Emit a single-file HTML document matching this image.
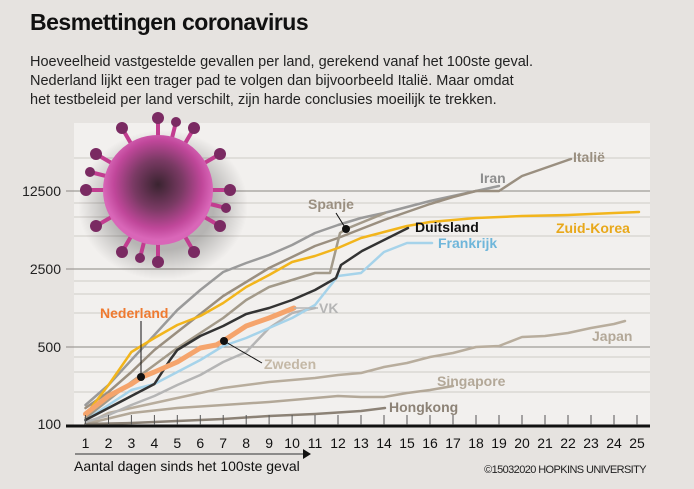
<!DOCTYPE html>
<html><head><meta charset="utf-8"><style>
body{margin:0;width:694px;height:489px;background:#e6e3e0;font-family:"Liberation Sans",sans-serif;overflow:hidden}
</style></head><body>
<svg width="694" height="489" xmlns="http://www.w3.org/2000/svg" style="position:absolute;left:0;top:0">
<defs>
<radialGradient id="vg" cx="0.5" cy="0.45" r="0.5">
<stop offset="0" stop-color="#3a2430"/><stop offset="0.45" stop-color="#7a3a64"/><stop offset="0.8" stop-color="#c0479a"/><stop offset="1" stop-color="#d966b8"/></radialGradient>
<radialGradient id="sh" cx="0.5" cy="0.5" r="0.5"><stop offset="0.6" stop-color="#000" stop-opacity="0.25"/><stop offset="1" stop-color="#000" stop-opacity="0"/></radialGradient>
</defs>
<text x="30" y="30" font-size="23" font-weight="bold" fill="#111" letter-spacing="-0.5">Besmettingen coronavirus</text>
<g font-size="14.5" fill="#222">
<text x="30" y="66">Hoeveelheid vastgestelde gevallen per land, gerekend vanaf het 100ste geval.</text>
<text x="30" y="85">Nederland lijkt een trager pad te volgen dan bijvoorbeeld Italië. Maar omdat</text>
<text x="30" y="104">het testbeleid per land verschilt, zijn harde conclusies moeilijk te trekken.</text>
</g>
<rect x="74" y="123" width="576" height="303" fill="#f2f0ee"/>
<g stroke="#cfcbc7" stroke-width="1">
<line x1="74" x2="650" y1="158" y2="158"/><line x1="74" x2="650" y1="203" y2="203"/><line x1="74" x2="650" y1="217" y2="217"/><line x1="74" x2="650" y1="236" y2="236"/><line x1="74" x2="650" y1="281" y2="281"/><line x1="74" x2="650" y1="294" y2="294"/><line x1="74" x2="650" y1="313" y2="313"/><line x1="74" x2="650" y1="357" y2="357"/><line x1="74" x2="650" y1="372" y2="372"/><line x1="74" x2="650" y1="392" y2="392"/>
</g>
<g stroke="#a09c98" stroke-width="1.3">
<line x1="66" x2="650" y1="191" y2="191"/><line x1="66" x2="650" y1="269" y2="269"/><line x1="66" x2="650" y1="347" y2="347"/>
</g>
<g font-size="14" fill="#222" text-anchor="end">
<text x="61" y="196">12500</text><text x="61" y="274">2500</text><text x="61" y="352">500</text><text x="61" y="429">100</text>
</g>
<g fill="none" stroke-linejoin="round" stroke-linecap="round">
<polyline stroke="#b8ad9d" stroke-width="2.5" points="85.5,424 108.5,413 131.4,408 154.4,403 177.3,398 200.3,393 223.2,388 246.2,385 269.1,382 292.1,380 315,378 338,375 361,373 384,367 407,363 430,357 453,353 476,347 499,346 522,337 545,336 568,333 591,328 614,324 625,321"/>
<polyline stroke="#b3a898" stroke-width="2.5" points="85.5,424 131.4,413 177.3,408 223.2,405 269.1,402 315,398 338,396 361,397 384,397 407,393 430,390 453,386"/>
<polyline stroke="#8c8276" stroke-width="2.5" points="85.5,424 131.4,423 177.3,421 223.2,419 269.1,416 315,414 361,411 385,408"/>
<polyline stroke="#b5b5b5" stroke-width="2.5" points="85.5,422 108.5,415 131.4,405 154.4,396 177.3,385 200.3,375 223.2,362 246.2,352 269.1,328 292.1,313 315,308"/>
<polyline stroke="#a6d3ea" stroke-width="2.5" points="85.5,420 108.5,405 131.4,390 154.4,384 177.3,372 200.3,360 223.2,346 246.2,338 269.1,328 292.1,318 315,305 338,276 361,273 384,252 407,243 432,243"/>
<polyline stroke="#9a9a9a" stroke-width="2.5" points="85.5,405 108.5,385 131.4,360 154.4,335 177.3,310 200.3,290 223.2,272 246.2,263 269.1,255 292.1,245 315,233 338,225 361,218 384,213 407,207 430,201 453,196 476,191 499,186"/>
<polyline stroke="#9a8f80" stroke-width="2.5" points="85.5,408 108.5,392 131.4,372 154.4,350 177.3,332 200.3,314 223.2,296 246.2,282 269.1,268 292.1,257 315,246 338,238 361,229 384,220 407,212 430,204 453,197 476,191 499,191 522,176 545,168 568,160 571,159"/>
<polyline stroke="#a39a8a" stroke-width="2.5" points="85.5,418 108.5,400 131.4,382 154.4,365 177.3,348 200.3,333 223.2,318 246.2,300 269.1,287 292.1,280 315,273 330,273 340,233 346,229 385,213"/>
<polyline stroke="#f2b51c" stroke-width="2.5" points="85.5,415 108.5,385 131.4,352 154.4,338 177.3,325 200.3,316 223.2,303 246.2,287 269.1,275 292.1,262 315,256 338,248 361,238 384,232 407,226 430,222 476,218 522,216 568,215 614,213 639,212"/>
<polyline stroke="#333" stroke-width="2.5" points="85.5,420 108.5,408 131.4,396 154.4,384 170,360 177.3,350 200.3,336 223.2,326 246.2,314 269.1,308 292.1,300 315,290 336,278 341,265 362,251 408,228"/>
<polyline stroke="#f5a46c" stroke-width="5" points="85.5,414 108.5,396 131.4,384 142,377 154.4,372 177.3,362 200.3,348 216,345 223.2,341 246.2,326 269.1,318 294,308"/>
</g>
<g stroke="#111" stroke-width="1"><line x1="141" y1="377" x2="141" y2="321"/><line x1="224" y1="341" x2="262" y2="363"/><line x1="346" y1="229" x2="336" y2="213"/></g>
<line x1="294" y1="308" x2="318" y2="308" stroke="#b5b5b5" stroke-width="1.5"/>
<g fill="#111"><circle cx="141" cy="377" r="4"/><circle cx="224" cy="341" r="4"/><circle cx="346" cy="229" r="4"/></g>
<g font-size="14" font-weight="bold">
<text x="100" y="318" fill="#ef7a30">Nederland</text>
<text x="264" y="369" fill="#c4b8a6">Zweden</text>
<text x="319" y="313" fill="#b5b5b5">VK</text>
<text x="308" y="209" fill="#9a8f80">Spanje</text>
<text x="415" y="232" fill="#111">Duitsland</text>
<text x="438" y="248" fill="#6fb6da">Frankrijk</text>
<text x="556" y="233" fill="#e8a81a">Zuid-Korea</text>
<text x="480" y="183" fill="#8e8e8e">Iran</text>
<text x="573" y="162" fill="#9a8f80">Italië</text>
<text x="592" y="341" fill="#b3a898">Japan</text>
<text x="437" y="386" fill="#b3a898">Singapore</text>
<text x="389" y="412" fill="#8c8276">Hongkong</text>
</g>
<ellipse cx="163" cy="205" rx="85" ry="75" fill="url(#sh)"/>
<g transform="translate(158,190)">
<g stroke="#c23d90" stroke-width="4" stroke-linecap="round">
<line x1="0" y1="-50" x2="0" y2="-72"/><line x1="25" y1="-43" x2="36" y2="-62"/><line x1="43" y1="-25" x2="62" y2="-36"/><line x1="50" y1="0" x2="72" y2="0"/><line x1="43" y1="25" x2="62" y2="36"/><line x1="25" y1="43" x2="36" y2="62"/><line x1="0" y1="50" x2="0" y2="72"/><line x1="-25" y1="43" x2="-36" y2="62"/><line x1="-43" y1="25" x2="-62" y2="36"/><line x1="-50" y1="0" x2="-72" y2="0"/><line x1="-43" y1="-25" x2="-62" y2="-36"/><line x1="-25" y1="-43" x2="-36" y2="-62"/>
<line x1="13" y1="-48" x2="18" y2="-68"/><line x1="-13" y1="48" x2="-18" y2="68"/><line x1="48" y1="13" x2="68" y2="18"/><line x1="-48" y1="-13" x2="-68" y2="-18"/>
</g>
<g fill="#7a2a62">
<circle cx="0" cy="-72" r="6"/><circle cx="36" cy="-62" r="6"/><circle cx="62" cy="-36" r="6"/><circle cx="72" cy="0" r="6"/><circle cx="62" cy="36" r="6"/><circle cx="36" cy="62" r="6"/><circle cx="0" cy="72" r="6"/><circle cx="-36" cy="62" r="6"/><circle cx="-62" cy="36" r="6"/><circle cx="-72" cy="0" r="6"/><circle cx="-62" cy="-36" r="6"/><circle cx="-36" cy="-62" r="6"/><circle cx="18" cy="-68" r="5"/><circle cx="-18" cy="68" r="5"/><circle cx="68" cy="18" r="5"/><circle cx="-68" cy="-18" r="5"/>
</g>
<circle r="55" fill="url(#vg)"/>
</g>
<line x1="66" y1="426" x2="650" y2="426" stroke="#111" stroke-width="3"/>
<g stroke="#555" stroke-width="1">
<line x1="85.5" x2="85.5" y1="415" y2="425"/><line x1="108.5" x2="108.5" y1="415" y2="425"/><line x1="131.4" x2="131.4" y1="415" y2="425"/><line x1="154.4" x2="154.4" y1="415" y2="425"/><line x1="177.3" x2="177.3" y1="415" y2="425"/><line x1="200.3" x2="200.3" y1="415" y2="425"/><line x1="223.2" x2="223.2" y1="415" y2="425"/><line x1="246.2" x2="246.2" y1="415" y2="425"/><line x1="269.1" x2="269.1" y1="415" y2="425"/><line x1="292.1" x2="292.1" y1="415" y2="425"/><line x1="315" x2="315" y1="415" y2="425"/><line x1="338" x2="338" y1="415" y2="425"/><line x1="361" x2="361" y1="415" y2="425"/><line x1="384" x2="384" y1="415" y2="425"/><line x1="407" x2="407" y1="415" y2="425"/><line x1="430" x2="430" y1="415" y2="425"/><line x1="453" x2="453" y1="415" y2="425"/><line x1="476" x2="476" y1="415" y2="425"/><line x1="499" x2="499" y1="415" y2="425"/><line x1="522" x2="522" y1="415" y2="425"/><line x1="545" x2="545" y1="415" y2="425"/><line x1="568" x2="568" y1="415" y2="425"/><line x1="591" x2="591" y1="415" y2="425"/><line x1="614" x2="614" y1="415" y2="425"/><line x1="637" x2="637" y1="415" y2="425"/>
</g>
<g font-size="14" fill="#111" text-anchor="middle">
<text x="85.5" y="448">1</text><text x="108.5" y="448">2</text><text x="131.4" y="448">3</text><text x="154.4" y="448">4</text><text x="177.3" y="448">5</text><text x="200.3" y="448">6</text><text x="223.2" y="448">7</text><text x="246.2" y="448">8</text><text x="269.1" y="448">9</text><text x="292.1" y="448">10</text><text x="315" y="448">11</text><text x="338" y="448">12</text><text x="361" y="448">13</text><text x="384" y="448">14</text><text x="407" y="448">15</text><text x="430" y="448">16</text><text x="453" y="448">17</text><text x="476" y="448">18</text><text x="499" y="448">19</text><text x="522" y="448">20</text><text x="545" y="448">21</text><text x="568" y="448">22</text><text x="591" y="448">23</text><text x="614" y="448">24</text><text x="637" y="448">25</text>
</g>
<line x1="75" y1="454" x2="303" y2="454" stroke="#555" stroke-width="1.3"/>
<polygon points="303,449 311,454 303,459" fill="#111"/>
<text x="74" y="471" font-size="14" fill="#111">Aantal dagen sinds het 100ste geval</text>
<text x="646" y="473" font-size="11" fill="#222" text-anchor="end" letter-spacing="-0.6">©15032020 HOPKINS UNIVERSITY</text>
</svg>
</body></html>
